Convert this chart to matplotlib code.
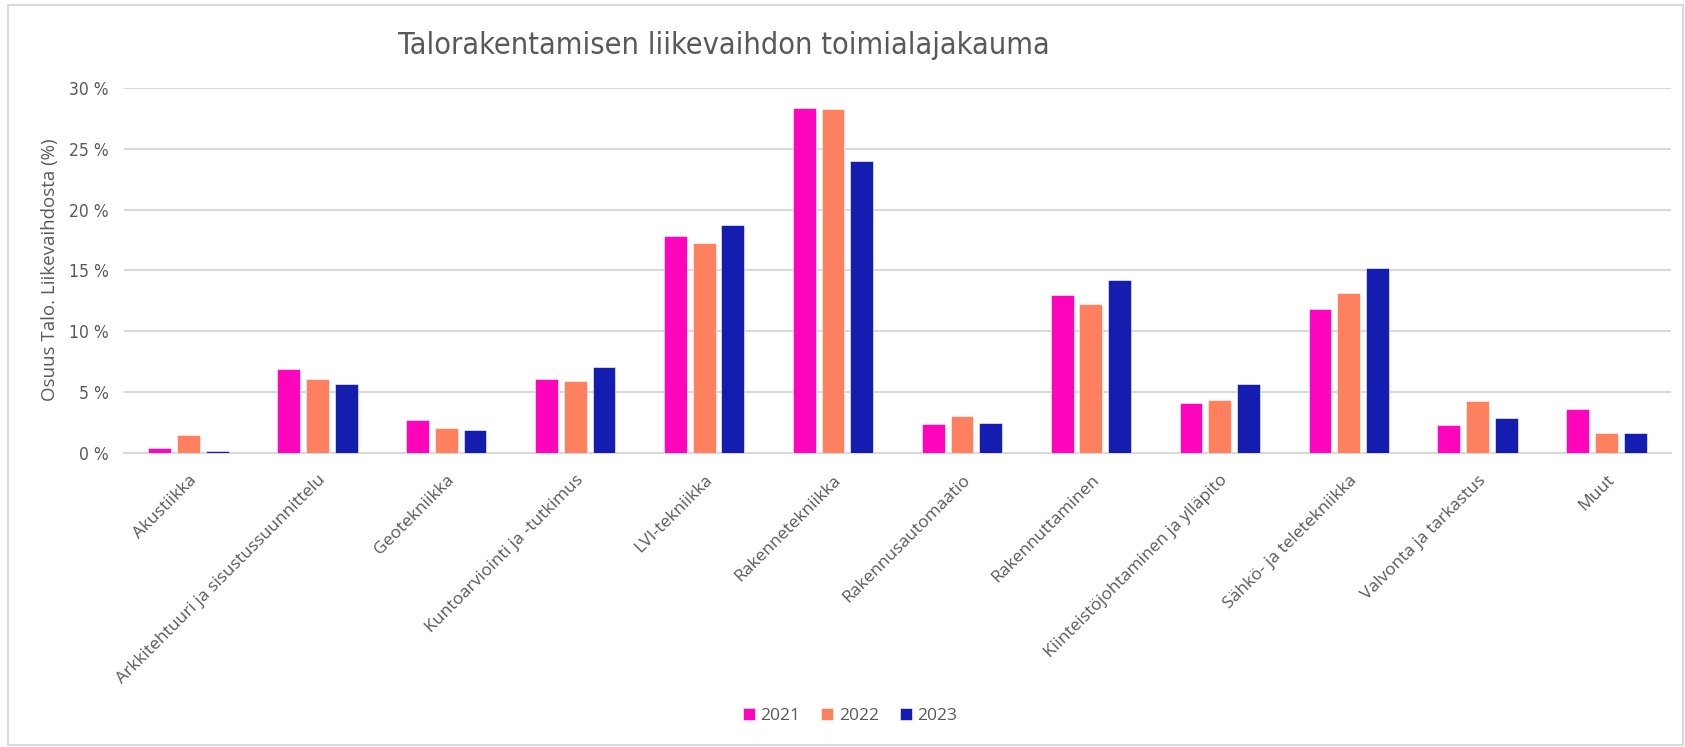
import matplotlib
matplotlib.use("Agg")
import matplotlib.pyplot as plt
import numpy as np
from matplotlib.patches import Rectangle
from matplotlib import font_manager as fm

categories = ["Akustiikka", "Arkkitehtuuri ja sisustussuunnittelu", "Geotekniikka",
              "Kuntoarviointi ja -tutkimus", "LVI-tekniikka", "Rakennetekniikka",
              "Rakennusautomaatio", "Rakennuttaminen", "Kiinteistöjohtaminen ja ylläpito",
              "Sähkö- ja teletekniikka", "Valvonta ja tarkastus", "Muut"]
years = ["2021", "2022", "2023"]
v2021 = [0.36, 6.86, 2.71, 6.09, 17.85, 28.32, 2.39, 12.94, 4.11, 11.82, 2.28, 3.59]
v2022 = [1.43, 6.09, 2.03, 5.92, 17.25, 28.24, 2.99, 12.23, 4.31, 13.10, 4.22, 1.59]
v2023 = [0.14, 5.65, 1.84, 7.02, 18.70, 24.01, 2.47, 14.23, 5.68, 15.16, 2.83, 1.59]
yticks = [0, 5, 10, 15, 20, 25, 30]
ytick_labels = ["0 %", "5 %", "10 %", "15 %", "20 %", "25 %", "30 %"]
title = "Talorakentamisen liikevaihdon toimialajakauma"
ylabel = "Osuus Talo. Liikevaihdosta (%)"

colors = ["#FF05BB", "#FF805E", "#151CB0"]
gray = "#595959"
sans = ["Open Sans", "DejaVu Sans"]

cond = None
for f in fm.fontManager.ttflist:
    if "Condensed" in f.fname or "Narrow" in f.fname:
        cond = f.fname
        if "DejaVuSansCondensed.ttf" in f.fname or "LiberationSansNarrow-Regular" in f.fname:
            break
if cond:
    narrow_prop = lambda size: fm.FontProperties(fname=cond, size=size)
else:
    narrow_prop = lambda size: fm.FontProperties(family="DejaVu Sans", size=size)

fig = plt.figure(figsize=(16.85, 7.47), dpi=100)
ax = fig.add_axes([124/1685, 1 - 452.7/747, (1671-124)/1685, (452.7-88)/747])

x = np.arange(len(categories))
width = 0.177
pitch = 0.223
for i, (vals, c, lab) in enumerate(zip([v2021, v2022, v2023], colors, years)):
    ax.bar(x + (i - 1) * pitch, vals, width=width, color=c, label=lab,
           edgecolor="white", linewidth=0.4, zorder=3)

ax.set_xlim(-0.5, len(categories) - 0.5)
ax.set_ylim(0, 30)
ax.set_yticks(yticks)
ax.set_yticklabels(ytick_labels, color=gray)
for t in ax.get_yticklabels():
    t.set_fontproperties(narrow_prop(12.5))
ax.set_xticks(x)
ax.set_xticklabels(categories, rotation=45, ha="right", rotation_mode="anchor",
                   fontfamily=sans, fontsize=12.5, color=gray)
ax.tick_params(axis="both", length=0)
ax.tick_params(axis="y", pad=11)
ax.tick_params(axis="x", pad=14)
ax.grid(axis="y", color="#d9d9d9", linewidth=1.5, zorder=0)
for s in ["top", "right", "left"]:
    ax.spines[s].set_visible(False)
ax.spines["bottom"].set_color("#d9d9d9")
ax.spines["bottom"].set_linewidth(1.5)

fig.text(50/1685, 1 - 270/747, ylabel, rotation=90, ha="center", va="center",
         fontfamily=sans, fontsize=13.5, color=gray)
fig.text(724/1685, 1 - 45/747, title, ha="center", va="center",
         fontproperties=narrow_prop(22), color=gray)

leg = fig.legend(loc="center", bbox_to_anchor=(850/1685, 1 - 716/747), ncol=3,
                 frameon=False, prop={"family": sans, "size": 12.5},
                 handlelength=0.7, handleheight=0.7, handletextpad=0.3,
                 columnspacing=1.2)
for t in leg.get_texts():
    t.set_color(gray)

fig.patches.append(Rectangle((8/1685, 2/747), 1675/1685, 740/747, transform=fig.transFigure,
                             fill=False, edgecolor="#d9d9d9", linewidth=1.5))

fig.savefig("out.png", dpi=100)
